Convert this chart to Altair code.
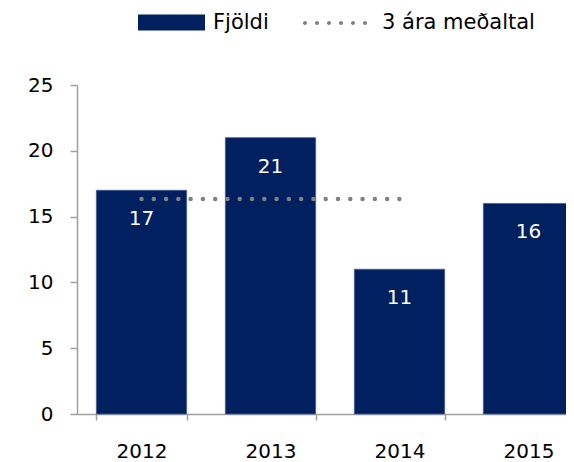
import altair as alt
import pandas as pd

# ---- data ----
years = ["2012", "2013", "2014", "2015"]
counts = [17, 21, 11, 16]
avg_years = ["2012", "2013", "2014"]
avg_values = [16.33, 16.33, 16.33]
bar_series = "Fjöldi"
avg_series = "3 ára meðaltal"
y_ticks = [0, 5, 10, 15, 20, 25]

bar_df = pd.DataFrame({"ar": years, "fjoldi": counts, "series": [bar_series] * len(years)})
avg_df = pd.DataFrame({"ar": avg_years, "medaltal": avg_values, "series": [avg_series] * len(avg_years)})

FONT = "DejaVu Sans"
NAVY = "#002060"
GREY = "#808080"
AXIS_GREY = "#a0a0a0"

# legend symbol shapes (unit square -1..1)
rect_path = "M-1,-0.239L1,-0.239L1,0.239L-1,0.239Z"
r = 0.0625
dot_path = ""
for c in [-0.9375, -0.5625, -0.1875, 0.1875, 0.5625, 0.9375]:
    dot_path += f"M{c - r},0A{r},{r} 0 1,0 {c + r},0A{r},{r} 0 1,0 {c - r},0Z"

x_enc = alt.X(
    "ar:N",
    sort=years,
    scale=alt.Scale(domain=years, range=[0, 516], paddingInner=0.3, paddingOuter=0.15),
    axis=alt.Axis(
        title=None, labelAngle=0, tickBand="extent", tickSize=6, labelPadding=21,
        labelFontSize=20, labelFont=FONT, labelColor="#000000",
        domainColor=AXIS_GREY, tickColor=AXIS_GREY, domainWidth=1.5, tickWidth=1.5, grid=False,
    ),
)
y_scale = alt.Scale(domain=[0, 25], nice=False)

bars = alt.Chart(bar_df).mark_bar(stroke="#4a6090", strokeWidth=0.8).encode(
    x=x_enc,
    y=alt.Y(
        "fjoldi:Q",
        scale=y_scale,
        axis=alt.Axis(
            title=None, values=y_ticks, tickSize=7, labelPadding=17, labelFontSize=20,
            labelFont=FONT, labelColor="#000000", domainColor=AXIS_GREY, tickColor=AXIS_GREY,
            domainWidth=1.5, tickWidth=1.5, grid=False,
        ),
    ),
    color=alt.Color(
        "series:N",
        scale=alt.Scale(domain=[bar_series], range=[NAVY]),
        legend=alt.Legend(
            orient="none", legendX=61, legendY=-96, title=None, padding=0,
            symbolType=rect_path, symbolSize=4489, symbolStrokeWidth=0,
            labelOffset=8, labelFontSize=21, labelFont=FONT, labelColor="#000000",
        ),
    ),
)

labels = alt.Chart(bar_df).mark_text(
    color="white", baseline="middle", dy=29, fontSize=20, font=FONT
).encode(x=x_enc, y=alt.Y("fjoldi:Q", scale=y_scale), text="fjoldi:Q")

line = alt.Chart(avg_df).mark_line(color=GREY, strokeCap="round").encode(
    x=x_enc,
    y=alt.Y("medaltal:Q", scale=y_scale),
    size=alt.value(4.5),
    strokeDash=alt.StrokeDash(
        "series:N",
        scale=alt.Scale(domain=[avg_series], range=[[0.01, 12.27]]),
        legend=alt.Legend(
            orient="none", legendX=226, legendY=-94, title=None, padding=0,
            symbolType=dot_path, symbolSize=4096, symbolStrokeWidth=0,
            symbolFillColor=GREY, labelOffset=15, labelFontSize=21, labelFont=FONT,
            labelColor="#000000",
        ),
    ),
)

chart = alt.layer(bars, line, labels).properties(
    width=489,
    height=329,
    autosize=alt.AutoSizeParams(type="none"),
    padding={"left": 69, "top": 77, "right": 0, "bottom": 48},
).configure_view(stroke=None)

chart.save("out.html", embed_options={"renderer": "svg", "actions": False})
